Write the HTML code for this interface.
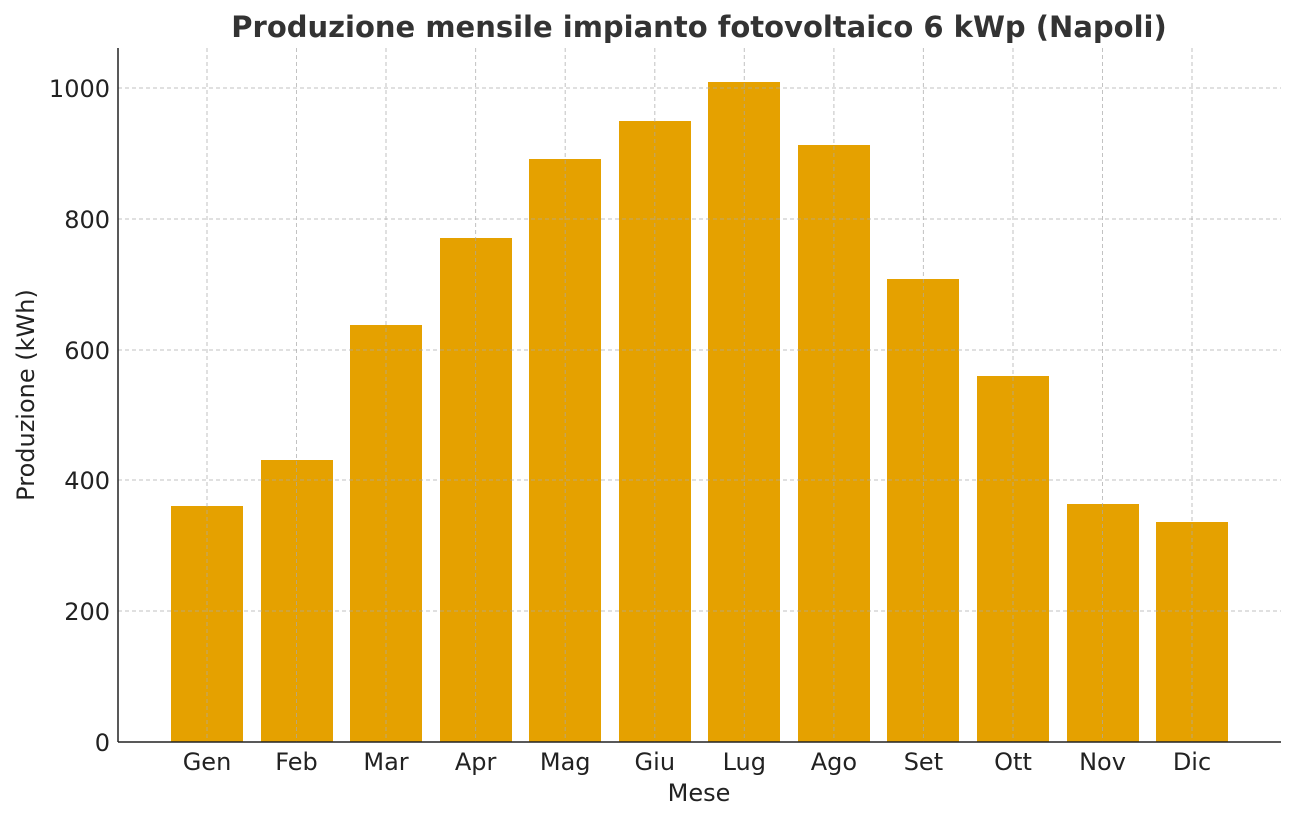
<!DOCTYPE html>
<html><head><meta charset="utf-8"><style>html,body{margin:0;padding:0;background:#fff}svg{display:block}</style></head>
<body>
<svg width="1295" height="821" xmlns="http://www.w3.org/2000/svg" font-family="'DejaVu Sans','Liberation Sans',sans-serif">
<rect width="1295" height="821" fill="#fff"/>
<g fill="#E5A100">
<rect x="171" y="506" width="72" height="236"/>
<rect x="261" y="460" width="72" height="282"/>
<rect x="350" y="325" width="72" height="417"/>
<rect x="440" y="238" width="72" height="504"/>
<rect x="529" y="159" width="72" height="583"/>
<rect x="619" y="121" width="72" height="621"/>
<rect x="708" y="82" width="72" height="660"/>
<rect x="798" y="145" width="72" height="597"/>
<rect x="887" y="279" width="72" height="463"/>
<rect x="977" y="376" width="72" height="366"/>
<rect x="1067" y="504" width="72" height="238"/>
<rect x="1156" y="522" width="72" height="220"/>
</g>
<g stroke="#a8a8a8" stroke-opacity="0.7" stroke-width="1" stroke-dasharray="4,3">
<line x1="118" x2="1281" y1="611" y2="611"/>
<line x1="118" x2="1281" y1="480" y2="480"/>
<line x1="118" x2="1281" y1="350" y2="350"/>
<line x1="118" x2="1281" y1="219" y2="219"/>
<line x1="118" x2="1281" y1="88" y2="88"/>
<line x1="207" x2="207" y1="48" y2="742"/>
<line x1="296.5" x2="296.5" y1="48" y2="742"/>
<line x1="386" x2="386" y1="48" y2="742"/>
<line x1="475.6" x2="475.6" y1="48" y2="742"/>
<line x1="565.2" x2="565.2" y1="48" y2="742"/>
<line x1="654.8" x2="654.8" y1="48" y2="742"/>
<line x1="744.3" x2="744.3" y1="48" y2="742"/>
<line x1="833.9" x2="833.9" y1="48" y2="742"/>
<line x1="923.4" x2="923.4" y1="48" y2="742"/>
<line x1="1013" x2="1013" y1="48" y2="742"/>
<line x1="1102.5" x2="1102.5" y1="48" y2="742"/>
<line x1="1192" x2="1192" y1="48" y2="742"/>
</g>
<g stroke="#222" stroke-width="1.5" fill="none">
<line x1="118" y1="48" x2="118" y2="742"/>
<line x1="118" y1="742" x2="1281" y2="742"/>
</g>
<g fill="#222" font-size="24" text-anchor="end">
<text x="110" y="751">0</text>
<text x="110" y="620">200</text>
<text x="110" y="489">400</text>
<text x="110" y="359">600</text>
<text x="110" y="228">800</text>
<text x="110" y="97">1000</text>
</g>
<g fill="#222" font-size="24" text-anchor="middle">
<text x="207" y="770">Gen</text>
<text x="296.5" y="770">Feb</text>
<text x="386" y="770">Mar</text>
<text x="475.6" y="770">Apr</text>
<text x="565.2" y="770">Mag</text>
<text x="654.8" y="770">Giu</text>
<text x="744.3" y="770">Lug</text>
<text x="833.9" y="770">Ago</text>
<text x="923.4" y="770">Set</text>
<text x="1013" y="770">Ott</text>
<text x="1102.5" y="770">Nov</text>
<text x="1192" y="770">Dic</text>
<text x="699" y="801">Mese</text>
<text x="699" y="37" font-size="29" font-weight="bold" fill="#333">Produzione mensile impianto fotovoltaico 6 kWp (Napoli)</text>
<text transform="translate(34,395) rotate(-90)">Produzione (kWh)</text>
</g>
</svg>
</body></html>
